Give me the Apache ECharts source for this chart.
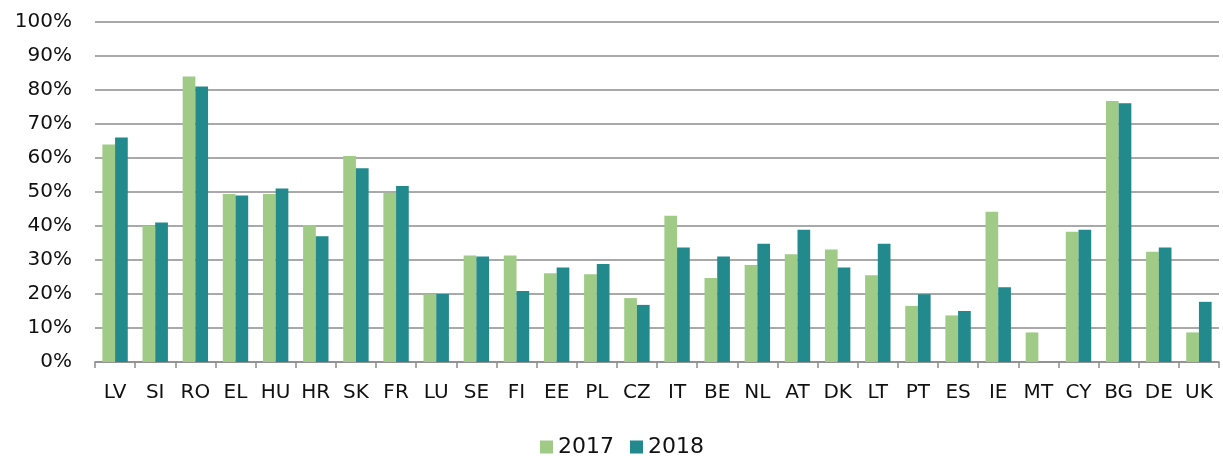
<!DOCTYPE html>
<html>
<head>
<meta charset="utf-8">
<style>
  html, body { margin: 0; padding: 0; background: #ffffff; }
  #chart { width: 1223px; height: 456px; }
</style>
<script src="https://cdn.jsdelivr.net/npm/echarts@6/dist/echarts.min.js"></script>
</head>
<body>
<div id="chart"></div>
<script>
// Country codes along the x axis
const countries = ['LV', 'SI', 'RO', 'EL', 'HU', 'HR', 'SK', 'FR', 'LU', 'SE', 'FI', 'EE', 'PL', 'CZ',
  'IT', 'BE', 'NL', 'AT', 'DK', 'LT', 'PT', 'ES', 'IE', 'MT', 'CY', 'BG', 'DE', 'UK'];

// Shares in percent per year (MT has no 2018 value)
const values2017 = [64, 40, 84, 49.4, 49.4, 40.3, 60.6, 49.8, 19.9, 31.3, 31.3, 26.1, 25.8, 18.8,
  43, 24.7, 28.5, 31.7, 33.1, 25.5, 16.5, 13.7, 44.2, 8.7, 38.3, 76.8, 32.4, 8.7];
const values2018 = [66, 41, 81, 49, 51, 37, 57, 51.8, 20, 31, 20.9, 27.8, 28.8, 16.8,
  33.7, 31, 34.8, 38.9, 27.8, 34.8, 19.9, 15, 22, null, 38.9, 76.1, 33.7, 17.7];

const seriesNames = ['2017', '2018'];
const seriesColors = ['#9fcb86', '#22898d'];

const labelFont = 'DejaVu Sans';
const gridColor = '#8c8c8c';

const chart = echarts.init(document.getElementById('chart'), null, { renderer: 'canvas' });

chart.setOption({
  animation: false,
  backgroundColor: '#ffffff',
  grid: { left: 95, right: 4, top: 22, bottom: 94, containLabel: false },
  legend: {
    left: 535,
    top: 431,
    itemWidth: 13,
    itemHeight: 13,
    itemGap: 16,
    icon: 'rect',
    textStyle: { fontFamily: labelFont, fontSize: 22, color: '#111111' },
    data: seriesNames
  },
  xAxis: {
    type: 'category',
    data: countries,
    axisLine: { show: true, lineStyle: { color: gridColor, width: 1.5 } },
    axisTick: { show: true, length: 6, lineStyle: { color: gridColor, width: 1.5 } },
    axisLabel: { margin: 21, fontFamily: labelFont, fontSize: 20, color: '#111111', interval: 0 },
    splitLine: { show: false }
  },
  yAxis: {
    type: 'value',
    min: 0,
    max: 100,
    interval: 10,
    axisLine: { show: false },
    axisTick: { show: false },
    axisLabel: { margin: 23, fontFamily: labelFont, fontSize: 20, color: '#111111', formatter: '{value}%' },
    splitLine: { show: true, lineStyle: { color: gridColor, width: 1.5 } }
  },
  series: [
    {
      name: seriesNames[0],
      type: 'bar',
      data: values2017,
      barWidth: 12.7,
      barGap: '0%',
      itemStyle: { color: seriesColors[0] }
    },
    {
      name: seriesNames[1],
      type: 'bar',
      data: values2018,
      barWidth: 12.7,
      barGap: '0%',
      itemStyle: { color: seriesColors[1] }
    }
  ]
});
</script>
</body>
</html>
